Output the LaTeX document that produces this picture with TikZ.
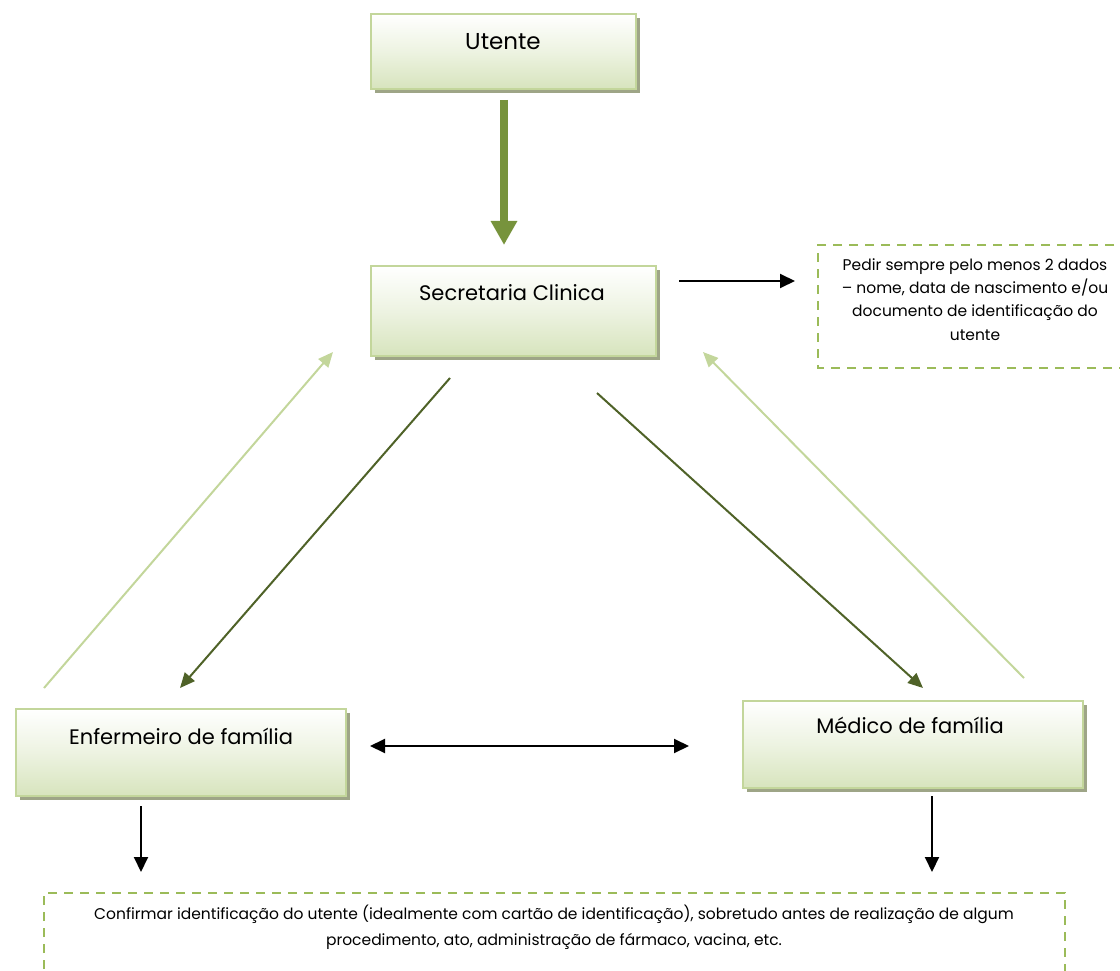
\documentclass[tikz,border=0pt]{standalone}
\usepackage{fontspec}
\setmainfont{Poppins}
\usetikzlibrary{arrows.meta}
\definecolor{boxline}{RGB}{195,214,155}
\definecolor{boxfill}{RGB}{215,228,189}
\definecolor{boxshadow}{RGB}{158,165,135}
\definecolor{dashgreen}{RGB}{155,187,89}
\definecolor{thickgreen}{RGB}{119,147,60}
\definecolor{darkgreen}{RGB}{79,98,40}
\definecolor{lightgreen}{RGB}{195,214,155}
\tikzset{
  rolebox/.style={draw=boxline, line width=2.2pt, top color=white, bottom color=boxfill,
    middle color=boxfill!45, shading angle=0, inner sep=0pt},
  rolename/.style={font=\fontsize{21}{24}\selectfont, text=black, anchor=base},
  notebox/.style={draw=dashgreen, line width=2.8pt, dash pattern=on 9pt off 7pt},
  notetext/.style={text=black, align=center},
  thickarrow/.style={thickgreen, line width=8pt, -{Triangle[width=25pt,length=24pt]}},
  flowdown/.style={darkgreen, line width=2pt, -{Triangle[width=13pt,length=15pt]}},
  flowback/.style={lightgreen, line width=2pt, -{Triangle[width=13pt,length=15pt]}},
  blackarrow/.style={black, line width=2pt, -{Triangle[width=14pt,length=15pt]}},
  blackboth/.style={black, line width=2pt, {Triangle[width=14pt,length=15pt]}-{Triangle[width=14pt,length=15pt]}},
}
\begin{document}
\begin{tikzpicture}[x=1pt,y=-1pt]
\useasboundingbox (0,0) rectangle (1120,971);

% role boxes with drop shadow
\fill[boxshadow] (375,18) rectangle (640,93);
\node[rolebox, minimum width=265pt, minimum height=75pt, anchor=north west] (utente) at (370,13) {};
\node[rolename, font=\fontsize{23}{26}\selectfont] (utentetxt) at (503,50) {Utente};

\fill[boxshadow] (375,270) rectangle (660,360);
\node[rolebox, minimum width=285pt, minimum height=90pt, anchor=north west] (secretaria) at (370,265) {};
\node[rolename] (secretariatxt) at (512,300) {Secretaria Clinica};

\fill[boxshadow] (20,713) rectangle (350,800);
\node[rolebox, minimum width=330pt, minimum height=87pt, anchor=north west] (enfermeiro) at (15,708) {};
\node[rolename] (enfermeirotxt) at (181,744) {Enfermeiro de família};

\fill[boxshadow] (747,705) rectangle (1087,792);
\node[rolebox, minimum width=340pt, minimum height=87pt, anchor=north west] (medico) at (742,700) {};
\node[rolename] (medicotxt) at (910,733) {Médico de família};

% dashed notes
\draw[notebox] (1130,245) -- (818,245) -- (818,368) -- (1130,368);
\node[notetext, font=\fontsize{15.5}{23.3}\selectfont, anchor=north] (notedados) at (975,255)
  {Pedir sempre pelo menos 2 dados\\– nome, data de nascimento e/ou\\documento de identificação do\\utente};

\draw[notebox] (44,985) -- (44,893) -- (1065,893) -- (1065,985);
\node[notetext, font=\fontsize{15.5}{26}\selectfont, anchor=north] (noteconfirmar) at (554,901)
  {Confirmar identificação do utente (idealmente com cartão de identificação), sobretudo antes de realização de algum\\procedimento, ato, administração de fármaco, vacina, etc.};

% arrow end points
\coordinate (a1) at (504,100);
\coordinate (a2) at (504,245);
\coordinate (b1) at (679,281);
\coordinate (b2) at (795,281);
\coordinate (c1) at (450,378);
\coordinate (c2) at (180,688);
\coordinate (d1) at (597,393);
\coordinate (d2) at (923,688);
\coordinate (e1) at (44,688);
\coordinate (e2) at (333,352);
\coordinate (f1) at (1024,678);
\coordinate (f2) at (703,352);
\coordinate (g1) at (370,746);
\coordinate (g2) at (689,746);
\coordinate (h1) at (141,806);
\coordinate (h2) at (141,872);
\coordinate (i1) at (932,796);
\coordinate (i2) at (932,872);

\draw[thickarrow] (a1) -- (a2);
\draw[blackarrow] (b1) -- (b2);
\draw[flowdown] (c1) -- (c2);
\draw[flowdown] (d1) -- (d2);
\draw[flowback] (e1) -- (e2);
\draw[flowback] (f1) -- (f2);
\draw[blackboth] (g1) -- (g2);
\draw[blackarrow] (h1) -- (h2);
\draw[blackarrow] (i1) -- (i2);
\end{tikzpicture}
\end{document}
